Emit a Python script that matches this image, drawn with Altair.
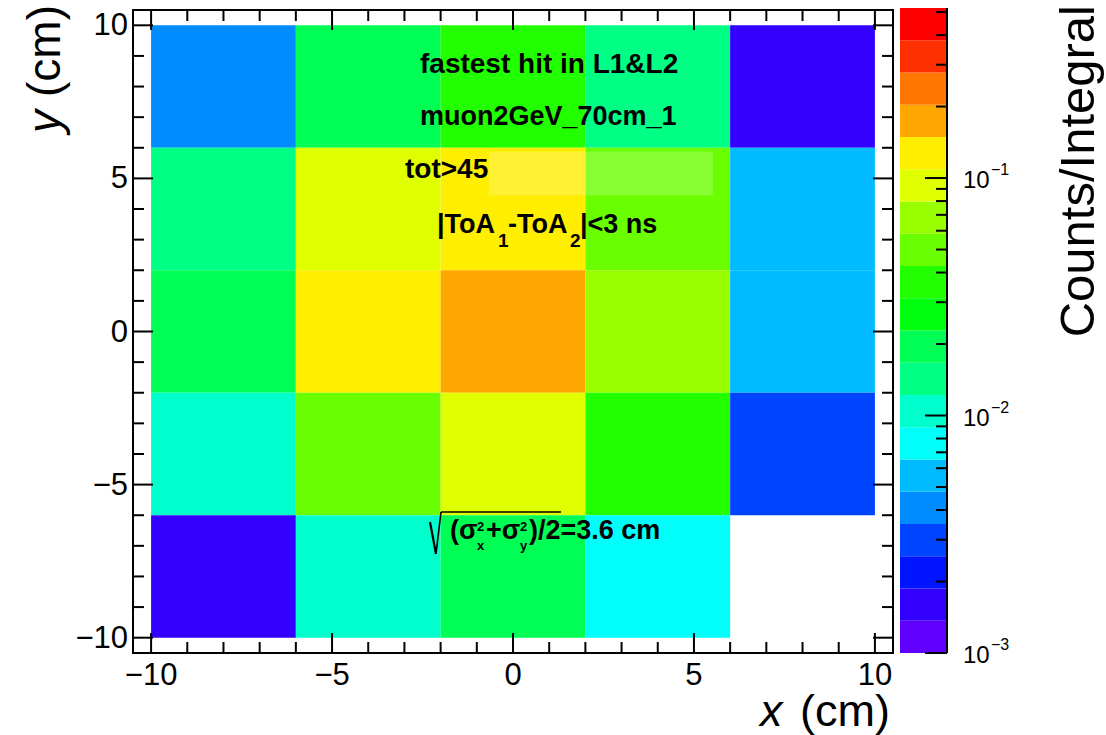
import altair as alt
import numpy as np
import pandas as pd

# ---- histogram content -------------------------------------------------
# bin edges in cm
x_edges = [-10, -6, -2, 2, 6, 10]
y_edges = [-10, -6, -2, 2, 6, 10]

# Counts/Integral per bin, one list per row of bins (top row first), columns left to right
row_y_6_10 = [0.0041, 0.0195, 0.0364, 0.0143, 0.0016]
row_y_2_6 = [0.0143, 0.093, 0.127, 0.0498, 0.0056]
row_y_m2_2 = [0.0195, 0.127, 0.174, 0.068, 0.0056]
row_y_m6_m2 = [0.0104, 0.0498, 0.093, 0.0364, 0.0030]
row_y_m10_m6 = [0.0016, 0.0104, 0.0195, 0.0076, 0.0]

# z range of the palette and number of contours
z_min, z_max, n_contours = 1e-3, 0.52, 20

# rainbow palette, low to high
palette = ["#6200ff", "#3300ff", "#0014ff", "#0044ff", "#008bff",
           "#00bbff", "#00fffb", "#00ffcc", "#00ff85", "#00ff55",
           "#00ff0e", "#22ff00", "#69ff00", "#99ff00", "#e0ff00",
           "#ffee00", "#ffa700", "#ff7700", "#ff3000", "#ff0000"]

# axis ticks and their labels
axis_major = [-10, -5, 0, 5, 10]
axis_major_text = ["\u221210", "\u22125", "0", "5", "10"]
axis_minor = [v for v in range(-9, 10) if v % 5 != 0]
z_major = [1e-3, 1e-2, 1e-1]
z_major_exp = ["\u22123", "\u22122", "\u22121"]
z_minor = [k * 10.0 ** d for d in (-3, -2, -1) for k in range(2, 10) if k * 10.0 ** d <= z_max]

# ---- tables --------------------------------------------------------------
rows_top_down = [row_y_6_10, row_y_2_6, row_y_m2_2, row_y_m6_m2, row_y_m10_m6]
records = []
for r, row in enumerate(rows_top_down):
    yi = len(y_edges) - 2 - r
    for c, v in enumerate(row):
        if v > 0:
            records.append({"x0": x_edges[c], "x1": x_edges[c + 1],
                            "y0": y_edges[yi], "y1": y_edges[yi + 1], "value": v})
cells_df = pd.DataFrame(records)

log_edges = np.linspace(np.log10(z_min), np.log10(z_max), n_contours + 1)
levels = [float(v) for v in 10 ** log_edges]
bounds = levels[1:-1]
bands_df = pd.DataFrame({"lo": levels[:-1], "hi": levels[1:]})
bands_df["value"] = np.sqrt(bands_df["lo"] * bands_df["hi"])

W, H = 760, 643
FONT = "Liberation Sans"

xs = alt.Scale(domain=[-10.5, 10.5], nice=False, zero=False)
ys = alt.Scale(domain=[-10.5, 10.5], nice=False, zero=False)
cs = alt.Scale(type="threshold", domain=bounds, range=palette)
zs = alt.Scale(type="log", domain=[z_min, z_max], range=[H, -2], nice=False)

cells = alt.Chart(cells_df).mark_rect().encode(
    x=alt.X("x0:Q", scale=xs, axis=None),
    x2="x1:Q",
    y=alt.Y("y0:Q", scale=ys, axis=None),
    y2="y1:Q",
    color=alt.Color("value:Q", scale=cs, legend=None),
)

# light box behind the selection label
box_df = pd.DataFrame({"x0": [-0.67], "x1": [5.52], "y0": [4.44], "y1": [5.88]})
box = alt.Chart(box_df).mark_rect(color="white", opacity=0.2).encode(
    x=alt.X("x0:Q", scale=xs, axis=None), x2="x1:Q",
    y=alt.Y("y0:Q", scale=ys, axis=None), y2="y1:Q")


def frame_ticks(values, length):
    df = pd.DataFrame({"t": values})
    base = alt.Chart(df).mark_rule(color="black", strokeWidth=2)
    return [
        base.encode(x=alt.X("t:Q", scale=xs, axis=None), y=alt.value(H), y2=alt.value(H - length)),
        base.encode(x=alt.X("t:Q", scale=xs, axis=None), y=alt.value(0), y2=alt.value(length)),
        base.encode(y=alt.Y("t:Q", scale=ys, axis=None), x=alt.value(0), x2=alt.value(length)),
        base.encode(y=alt.Y("t:Q", scale=ys, axis=None), x=alt.value(W), x2=alt.value(W - length)),
    ]


tick_lab_df = pd.DataFrame({"t": axis_major, "s": axis_major_text})
x_tick_labels = alt.Chart(tick_lab_df).mark_text(
    font=FONT, fontSize=31, align="center", baseline="alphabetic", color="black").encode(
    x=alt.X("t:Q", scale=xs, axis=None), y=alt.value(H + 32), text="s:N")
y_tick_labels = alt.Chart(tick_lab_df).mark_text(
    font=FONT, fontSize=31, align="right", baseline="middle", dy=1, color="black").encode(
    y=alt.Y("t:Q", scale=ys, axis=None), x=alt.value(-5), text="s:N")


def label(text, x, y, size=28, weight="bold", style="normal", align="left", angle=0,
          baseline="alphabetic"):
    return alt.Chart(pd.DataFrame({"label": [text]})).mark_text(
        font=FONT, fontSize=size, fontWeight=weight, fontStyle=style, align=align,
        angle=angle, baseline=baseline, color="black",
    ).encode(x=alt.value(x), y=alt.value(y), text="label:N")


def stroke(x1, y1, x2, y2, width=1.6):
    return alt.Chart(pd.DataFrame({"k": [0]})).mark_rule(color="black", strokeWidth=width).encode(
        x=alt.value(x1), y=alt.value(y1), x2=alt.value(x2), y2=alt.value(y2))


texts = [
    label("fastest hit in L1&L2", 287, 63),
    label("muon2GeV_70cm_1", 287, 115, size=27),
    label("tot>45", 272, 168),
    # |ToA_1 - ToA_2| < 3 ns
    label("|ToA", 304, 223, size=27),
    label("1", 365, 237, size=19),
    label("-ToA", 375, 223, size=27),
    label("2", 437, 237, size=19),
    label("|<3 ns", 447, 223, size=27),
    # sqrt((sigma_x^2 + sigma_y^2)/2) = 3.6 cm
    label("(\u03c3", 317, 529, size=27),
    label("2", 344, 521, size=13),
    label("x", 344, 540, size=13),
    label("+\u03c3", 353, 529, size=27),
    label("2", 387, 521, size=13),
    label("y", 387, 540, size=13),
    label(")/2=3.6 cm", 396, 529, size=27),
    stroke(297, 512, 303, 544, width=2.2),
    stroke(303, 544, 308, 502, width=1.6),
    stroke(308, 502, 428, 502, width=1.6),
    # axis titles
    label("x", 627, 716, size=45, weight="normal", style="italic"),
    label("(cm)", 757, 716, size=45, weight="normal", align="right"),
    label("(cm)", -73, -5, size=46, weight="normal", align="right", angle=270),
    label("y", -73, 100, size=46, weight="normal", style="italic", align="right", angle=270),
    label("Counts/Integral", 961, -5, size=49, weight="normal", align="right", angle=270),
]

main = alt.layer(cells, box, *frame_ticks(axis_major, 20), *frame_ticks(axis_minor, 11),
                 x_tick_labels, y_tick_labels, *texts)

# ---- colour bar ------------------------------------------------------------
bands = alt.Chart(bands_df).mark_rect().encode(
    x=alt.value(767), x2=alt.value(814),
    y=alt.Y("lo:Q", scale=zs, axis=None), y2="hi:Q",
    color=alt.Color("value:Q", scale=cs, legend=None),
)
zt_major = alt.Chart(pd.DataFrame({"t": z_major})).mark_rule(
    color="black", strokeWidth=2).encode(
    y=alt.Y("t:Q", scale=zs, axis=None), x=alt.value(814 - 22), x2=alt.value(814))
zt_minor = alt.Chart(pd.DataFrame({"t": z_minor})).mark_rule(
    color="black", strokeWidth=2).encode(
    y=alt.Y("t:Q", scale=zs, axis=None), x=alt.value(814 - 11), x2=alt.value(814))
z_base = alt.Chart(pd.DataFrame({"t": z_major, "e": z_major_exp, "b": ["10"] * 3}))
z_lab = z_base.mark_text(font=FONT, fontSize=24, align="left", baseline="alphabetic",
                         dy=10, color="black").encode(
    y=alt.Y("t:Q", scale=zs, axis=None), x=alt.value(830), text="b:N")
z_exp = z_base.mark_text(font=FONT, fontSize=16, align="left", baseline="alphabetic",
                         dy=-3, color="black").encode(
    y=alt.Y("t:Q", scale=zs, axis=None), x=alt.value(858), text="e:N")
z_edge = stroke(814, -2, 814, H, width=2)

cbar = alt.layer(bands, zt_major, zt_minor, z_lab, z_exp, z_edge)

chart = alt.layer(main, cbar).resolve_scale(y="independent").properties(
    width=W, height=H,
    autosize=alt.AutoSizeParams(type="none"),
    padding={"left": 133, "top": 10, "right": 213, "bottom": 82},
    background="white",
).configure_view(stroke="black", strokeWidth=2)

chart.save("out.html", embed_options={"renderer": "svg", "actions": False})
